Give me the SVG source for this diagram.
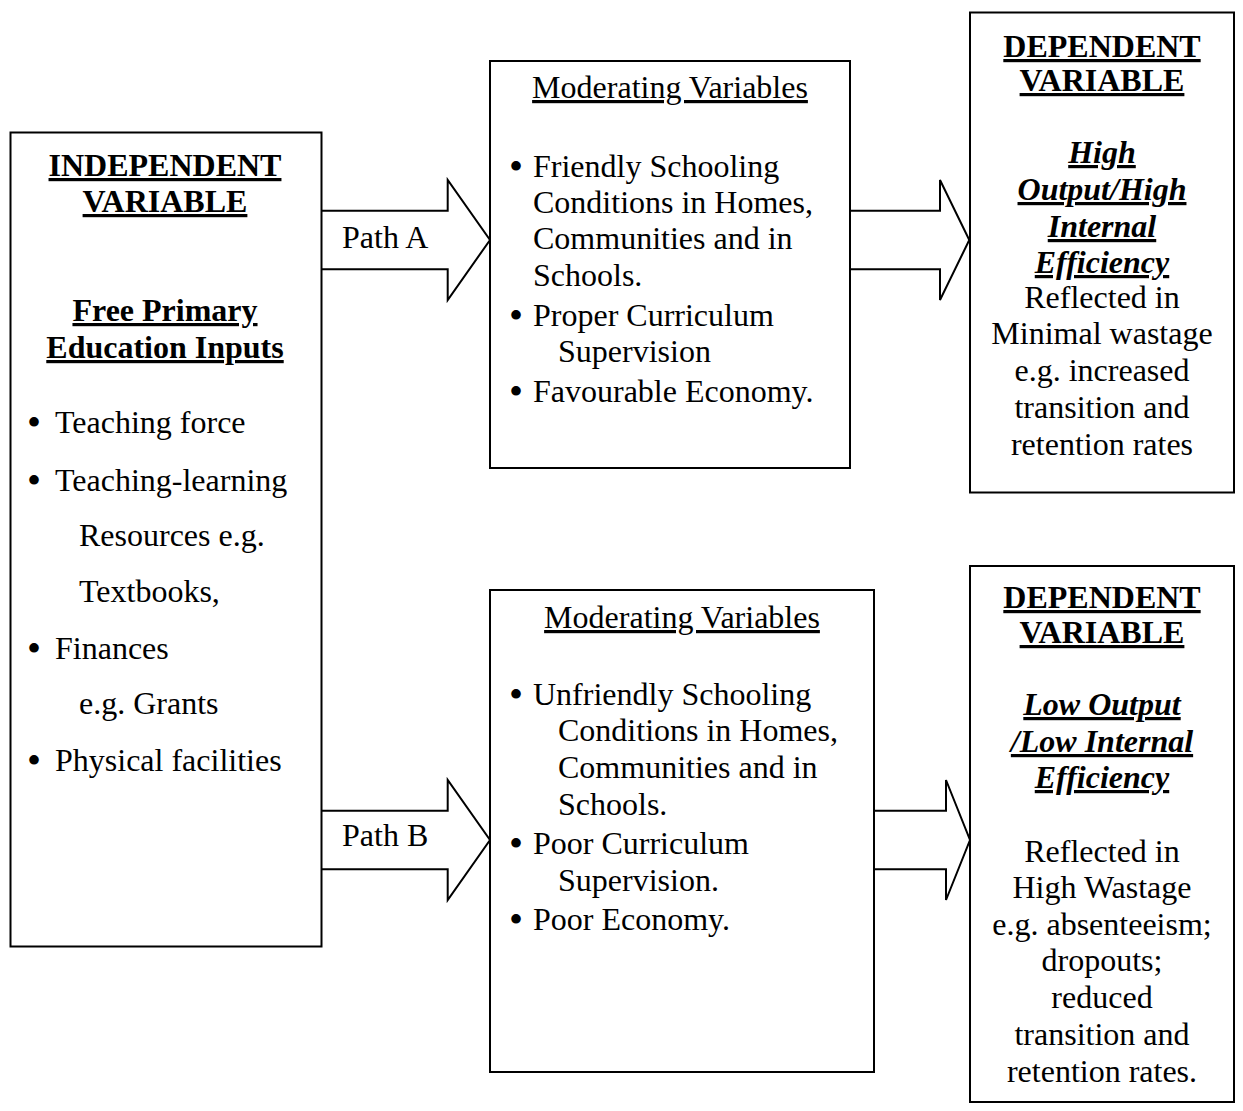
<svg xmlns="http://www.w3.org/2000/svg" width="1243" height="1111" viewBox="0 0 1243 1111">
<style>
text{font-family:"Liberation Serif","Times New Roman",serif;font-size:32px;fill:#000}
.c{text-anchor:middle}
.b{font-weight:bold}
.bi{font-weight:bold;font-style:italic}
.u{text-decoration:underline}
.d{font-size:40px}
.box{fill:#fff;stroke:#000;stroke-width:2}
.arr{fill:#fff;stroke:#000;stroke-width:2;stroke-linejoin:miter}
</style>
<rect width="1243" height="1111" fill="#fff"/>
<g id="connectors">
<polyline class="arr" points="321.7,210.7 447.7,210.7 447.7,180 490,240 447.7,300 447.7,269.3 321.7,269.3"/>
<polyline class="arr" points="850,210.7 940,210.7 940,180 969.3,240 940,300 940,269.3 850,269.3"/>
<polyline class="arr" points="321.7,810.7 447.7,810.7 447.7,780 490,840 447.7,900 447.7,869.3 321.7,869.3"/>
<polyline class="arr" points="874,810.7 946,810.7 946,780 970,840 946,900 946,869.3 874,869.3"/>
<text x="342" y="248">Path A</text>
<text x="342" y="846">Path B</text>
</g>
<g id="independent">
<rect class="box" x="10.5" y="132.5" width="311" height="814"/>
<text class="c b u" x="165" y="176">INDEPENDENT</text>
<text class="c b u" x="165" y="212">VARIABLE</text>
<text class="c b u" x="165" y="321">Free Primary</text>
<text class="c b u" x="165" y="358">Education Inputs</text>
<text class="d" x="27" y="436">•</text><text x="55" y="433">Teaching force</text>
<text class="d" x="27" y="494">•</text><text x="55" y="491">Teaching-learning</text>
<text x="79" y="546">Resources e.g.</text>
<text x="79" y="602">Textbooks,</text>
<text class="d" x="27" y="662">•</text><text x="55" y="659">Finances</text>
<text x="79" y="714">e.g. Grants</text>
<text class="d" x="27" y="774">•</text><text x="55" y="771">Physical facilities</text>
</g>
<g id="moderating-a">
<rect class="box" x="490" y="61" width="360" height="407"/>
<text class="c u" x="670" y="98">Moderating Variables</text>
<text class="d" x="509" y="180">•</text><text x="533" y="177">Friendly Schooling</text>
<text x="533" y="213">Conditions in Homes,</text>
<text x="533" y="249">Communities and in</text>
<text x="533" y="286">Schools.</text>
<text class="d" x="509" y="329">•</text><text x="533" y="326">Proper Curriculum</text>
<text x="558" y="362">Supervision</text>
<text class="d" x="509" y="405">•</text><text x="533" y="402">Favourable Economy.</text>
</g>
<g id="dependent-a">
<rect class="box" x="970" y="12.5" width="264" height="480"/>
<text class="c b u" x="1102" y="57">DEPENDENT</text>
<text class="c b u" x="1102" y="91">VARIABLE</text>
<text class="c bi u" x="1102" y="163">High</text>
<text class="c bi u" x="1102" y="200">Output/High</text>
<text class="c bi u" x="1102" y="237">Internal</text>
<text class="c bi u" x="1102" y="273">Efficiency</text>
<text class="c" x="1102" y="308">Reflected in</text>
<text class="c" x="1102" y="344">Minimal wastage</text>
<text class="c" x="1102" y="381">e.g. increased</text>
<text class="c" x="1102" y="418">transition and</text>
<text class="c" x="1102" y="455">retention rates</text>
</g>
<g id="moderating-b">
<rect class="box" x="490" y="590" width="384" height="482"/>
<text class="c u" x="682" y="628">Moderating Variables</text>
<text class="d" x="509" y="708">•</text><text x="533" y="705">Unfriendly Schooling</text>
<text x="558" y="741">Conditions in Homes,</text>
<text x="558" y="778">Communities and in</text>
<text x="558" y="815">Schools.</text>
<text class="d" x="509" y="857">•</text><text x="533" y="854">Poor Curriculum</text>
<text x="558" y="891">Supervision.</text>
<text class="d" x="509" y="933">•</text><text x="533" y="930">Poor Economy.</text>
</g>
<g id="dependent-b">
<rect class="box" x="970" y="566" width="264" height="536"/>
<text class="c b u" x="1102" y="608">DEPENDENT</text>
<text class="c b u" x="1102" y="643">VARIABLE</text>
<text class="c bi u" x="1102" y="715">Low Output</text>
<text class="c bi u" x="1102" y="752">/Low Internal</text>
<text class="c bi u" x="1102" y="788">Efficiency</text>
<text class="c" x="1102" y="862">Reflected in</text>
<text class="c" x="1102" y="898">High Wastage</text>
<text class="c" x="1102" y="935">e.g. absenteeism;</text>
<text class="c" x="1102" y="971">dropouts;</text>
<text class="c" x="1102" y="1008">reduced</text>
<text class="c" x="1102" y="1045">transition and</text>
<text class="c" x="1102" y="1082">retention rates.</text>
</g>
</svg>
